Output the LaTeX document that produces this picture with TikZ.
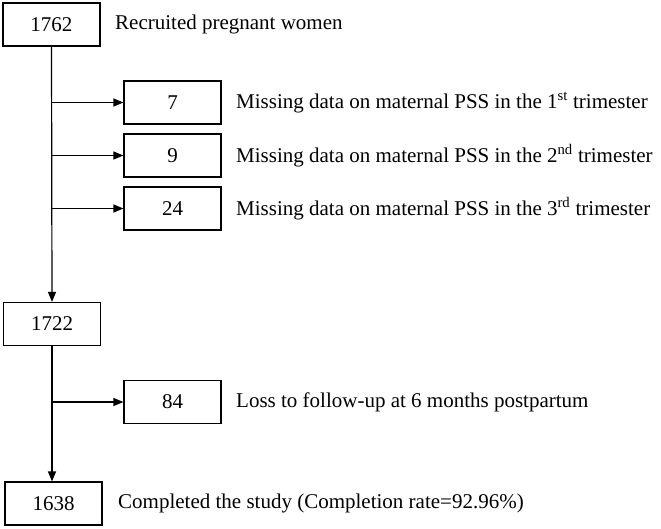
\documentclass[tikz,border=0pt]{standalone}
\usepackage{fontspec}
\setmainfont{Liberation Serif}
\usetikzlibrary{positioning,arrows.meta}

\begin{document}
\begin{tikzpicture}[x=1pt,y=-1pt,>={Triangle[length=10pt,width=8pt]},line width=1.2pt,
  font=\fontsize{21}{25}\selectfont,
  countbox/.style={draw,minimum width=97pt,minimum height=43pt,inner sep=0pt},
  note/.style={inner sep=0pt,anchor=west}]
\useasboundingbox (0,0) rectangle (661,528);
\node[countbox] (n1762) at (51.5,24.5) {1762};
\node[countbox] (n7) at (172.5,102.5) {7};
\node[countbox] (n9) at (172.5,155.5) {9};
\node[countbox] (n24) at (172.5,208.5) {24};
\node[countbox] (n1722) at (52,324) {1722};
\node[countbox] (n84) at (172.5,402) {84};
\node[countbox] (n1638) at (53.5,503.5) {1638};
\node[note,right=14pt of n1762] (t1762) {Recruited pregnant women};
\node[note,right=14pt of n7] (t7) {Missing data on maternal PSS in the 1\textsuperscript{st} trimester};
\node[note,right=14pt of n9] (t9) {Missing data on maternal PSS in the 2\textsuperscript{nd} trimester};
\node[note,right=14pt of n24] (t24) {Missing data on maternal PSS in the 3\textsuperscript{rd} trimester};
\node[note,right=14pt of n84] (t84) {Loss to follow-up at 6 months postpartum};
\node[note,right=15pt of n1638] (t1638) {Completed the study (Completion rate=92.96\%)};
\draw[->] (n1762.south) -- (n1722.north);
\draw[->] (n1762.south |- n7.west) -- (n7.west);
\draw[->] (n1762.south |- n9.west) -- (n9.west);
\draw[->] (n1762.south |- n24.west) -- (n24.west);
\draw[->] (n1722.south) -- (n1722.south |- n1638.north);
\draw[->] (n1722.south |- n84.west) -- (n84.west);
\end{tikzpicture}
\end{document}
